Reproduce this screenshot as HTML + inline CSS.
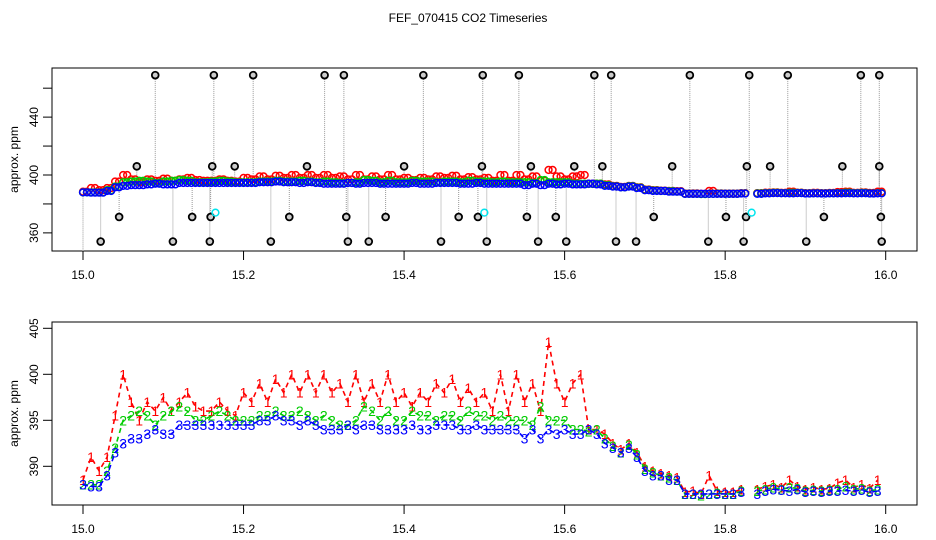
<!DOCTYPE html>
<html><head><meta charset="utf-8"><style>
body{margin:0;background:#fff;}
svg{display:block;font-family:"Liberation Sans",sans-serif;}
</style></head><body>
<svg id="chart" width="936" height="540" xmlns="http://www.w3.org/2000/svg">
<text x="468" y="22" text-anchor="middle" font-size="12">FEF_070415  CO2 Timeseries</text>
<g id="top"></g>
<g id="bot"></g>
</svg>
<script>
const times = [];
for (let i = 0; i < 100; i++) times.push(15 + i * 0.01);
const s1 = [388.5,391,389.5,391,395.5,400,397,395,397,396,397.5,396,397,398,396.5,396,396,397,396,395.5,
398,397,399,397,399.5,398,400,398,400,398,400,398,399,397,400,397,399,397,400,397,
398,396.5,398,397,399,398,399.5,397,398.5,397,398,396,400,396,400,397,399,396,403.5,399,
397,399,400,394,394,393.5,392.5,391.8,392.5,391.5,390,389.5,389.2,389,388.8,387.2,387.3,387,389,387.3,
387.2,387.2,387.5,null,387.5,387.8,388,387.7,388.5,387.8,387.5,387.7,387.5,387.6,388.2,388.5,387.7,388,387.6,388.5];
const s2 = [388,388,388,389.5,392,395,395.5,396,395.5,394.5,395.5,396,396.5,396,395,395,395.5,396,395.5,395,
395,395,395.5,395.5,396,395.5,395.5,396,395.5,395,395.5,395,394.5,394.5,395,396.5,396,395,396,395,
395,396,395.5,395.5,395,395.5,395.5,395,396,395.5,395.5,395,395.5,395,395,395,394.5,396.5,395,395,
395,394,394,393.8,394,393,392.2,391.5,392.3,391.3,389.7,389.3,389,388.8,388.5,387,387,386.8,387,387.1,
387,387,387.3,null,387.3,387.5,387.7,387.5,387.7,387.6,387.3,387.4,387.3,387.4,387.5,387.8,387.5,387.6,387.3,387.5];
const s3 = [388,387.8,387.8,389,391.5,392.5,393,393,393.5,394,393.5,393.5,394.5,394.5,394.5,394.5,394.5,394.5,394.5,394.5,
394.5,394.5,395,395,395.5,395,395,394.5,395,394.5,394,394,394,394.5,394,394.5,394.5,394,394,394,
394,394.5,394,394,394.5,394.5,394.5,394,394,394.5,394,394,394,394,394,393,394,393,394,393.5,
394,393.5,393.5,394,393.5,392.5,392,391.5,392,391,389.5,389,389,388.5,388.5,387,387,387,387,387,
387,387,387.2,null,387,387.3,387.5,387.4,387.3,387.5,387.2,387.3,387.2,387.3,387.3,387.4,387.3,387.4,387.2,387.3];
const outTimes = [15.090,15.163,15.212,15.301,15.325,15.424,15.498,15.543,15.637,15.658,15.756,15.830,15.878,15.969,15.992,
15.067,15.161,15.189,15.279,15.400,15.497,15.558,15.612,15.647,15.734,15.827,15.856,15.946,15.992,
15.045,15.136,15.159,15.257,15.328,15.377,15.468,15.492,15.553,15.589,15.711,15.801,15.826,15.923,15.994,
15.022,15.112,15.158,15.234,15.330,15.356,15.446,15.503,15.567,15.602,15.664,15.689,15.779,15.823,15.901,15.995];
const outValues = [469,469,469,469,469,469,469,469,469,469,469,469,469,469,469,
406,406,406,406,406,406,406,406,406,406,406,406,406,406,
371,371,371,371,371,371,371,371,371,371,371,371,371,371,371,
354,354,354,354,354,354,354,354,354,354,354,354,354,354,354,354];
const cyanTimes = [15.165,15.500,15.833];
const cyanValues = [374,374,374];
const xTicks = ["15.0","15.2","15.4","15.6","15.8","16.0"];
const topYTicks = [360,380,400,420,440,460];
const topYLabels = ["360","","400","","440",""];
const botYTicks = [390,395,400,405];

const NS = "http://www.w3.org/2000/svg";
function mk(parent, tag, attrs, text){
  const e = document.createElementNS(NS, tag);
  for (const k in attrs) e.setAttribute(k, attrs[k]);
  if (text !== undefined) e.textContent = text;
  parent.appendChild(e); return e;
}
const X = t => 83 + (t - 15) * 802.7;
const topY = v => 175 - (v - 400) * 1.447;
const botY = v => 374.3 - (v - 400) * 9.2;

function frame(g, top, bottom, yfn, yticks, ylabels, name){
  let e = mk(g, "rect", {x:52, y:top, width:865, height:bottom-top, fill:"none", stroke:"#000", "stroke-width":1});
  
  
  xTicks.forEach(lbl => {
    const x = X(parseFloat(lbl));
    mk(g, "line", {x1:x, x2:x, y1:bottom, y2:bottom+9, stroke:"#000"});
    e = mk(g, "text", {x:x, y:bottom+28, "text-anchor":"middle", "font-size":12}, lbl);
    
    
  });
  yticks.forEach((v, i) => {
    const y = yfn(v);
    mk(g, "line", {x1:43, x2:52, y1:y, y2:y, stroke:"#000"});
    const lbl = ylabels[i];
    if (lbl) {
      e = mk(g, "text", {x:0, y:0, "text-anchor":"middle", "font-size":12, transform:`translate(38,${y}) rotate(-90)`}, lbl);
      
      
    }
  });
  const mid = (top + bottom) / 2;
  e = mk(g, "text", {x:0, y:0, "text-anchor":"middle", "font-size":12, transform:`translate(18,${mid}) rotate(-90)`}, "approx. ppm");
  
  
}

// TOP PANEL
const gt = document.getElementById("top");
frame(gt, 68, 251, topY, topYTicks, topYLabels, "top");
outTimes.forEach((t, i) => {
  const idx = Math.min(99, Math.max(0, Math.round((t - 15) * 100)));
  let base = s3[idx]; if (base === null) base = 387.5;
  const l = mk(gt, "line", {x1:X(t), x2:X(t), y1:topY(outValues[i]), y2:topY(base), stroke:"#999", "stroke-dasharray":"1,1"});
  
  
});
{
  const l = mk(gt, "line", {x1:X(15), x2:X(15), y1:topY(s3[0]), y2:251, stroke:"#999", "stroke-dasharray":"1,1"});
  
  
}
[[s1,"#ff0000","red"],[s2,"#00cc00","green"],[s3,"#0000ff","blue"]].forEach(([s,c,n]) => {
  s.forEach((v, i) => {
    if (v === null) return;
    [0, 0.005].forEach(dt => {
      const p = mk(gt, "circle", {cx:X(times[i]+dt), cy:topY(v), r:3.4, fill:"none", stroke:c, "stroke-width":1.5});
      
      
    });
  });
});
outTimes.forEach((t, i) => {
  const p = mk(gt, "circle", {cx:X(t), cy:topY(outValues[i]), r:3.4, fill:"#ccc", stroke:"#000", "stroke-width":1.8});
  
  
});
cyanTimes.forEach((t, i) => {
  const p = mk(gt, "circle", {cx:X(t), cy:topY(cyanValues[i]), r:3.4, fill:"none", stroke:"#00e5ee", "stroke-width":1.5});
  
  
});

// BOTTOM PANEL
const gb = document.getElementById("bot");
frame(gb, 322, 505, botY, botYTicks, botYTicks.map(String), "bottom");
[[s1,"#ff0000","1"],[s2,"#00cc00","2"],[s3,"#0000ff","3"]].forEach(([s,c,ch]) => {
  let d = "", pen = false;
  s.forEach((v, i) => {
    if (v === null) { pen = false; return; }
    d += (pen ? "L" : "M") + X(times[i]).toFixed(1) + "," + botY(v).toFixed(1);
    pen = true;
  });
  const path = mk(gb, "path", {d:d, fill:"none", stroke:c, "stroke-width":1.6, "stroke-dasharray":"5,4"});
  
  
  s.forEach((v, i) => {
    if (v === null) return;
    const t = mk(gb, "text", {x:X(times[i]), y:botY(v)+5, "text-anchor":"middle", "font-size":14, fill:c}, ch);
    
    
  });
});
</script>
</body></html>
